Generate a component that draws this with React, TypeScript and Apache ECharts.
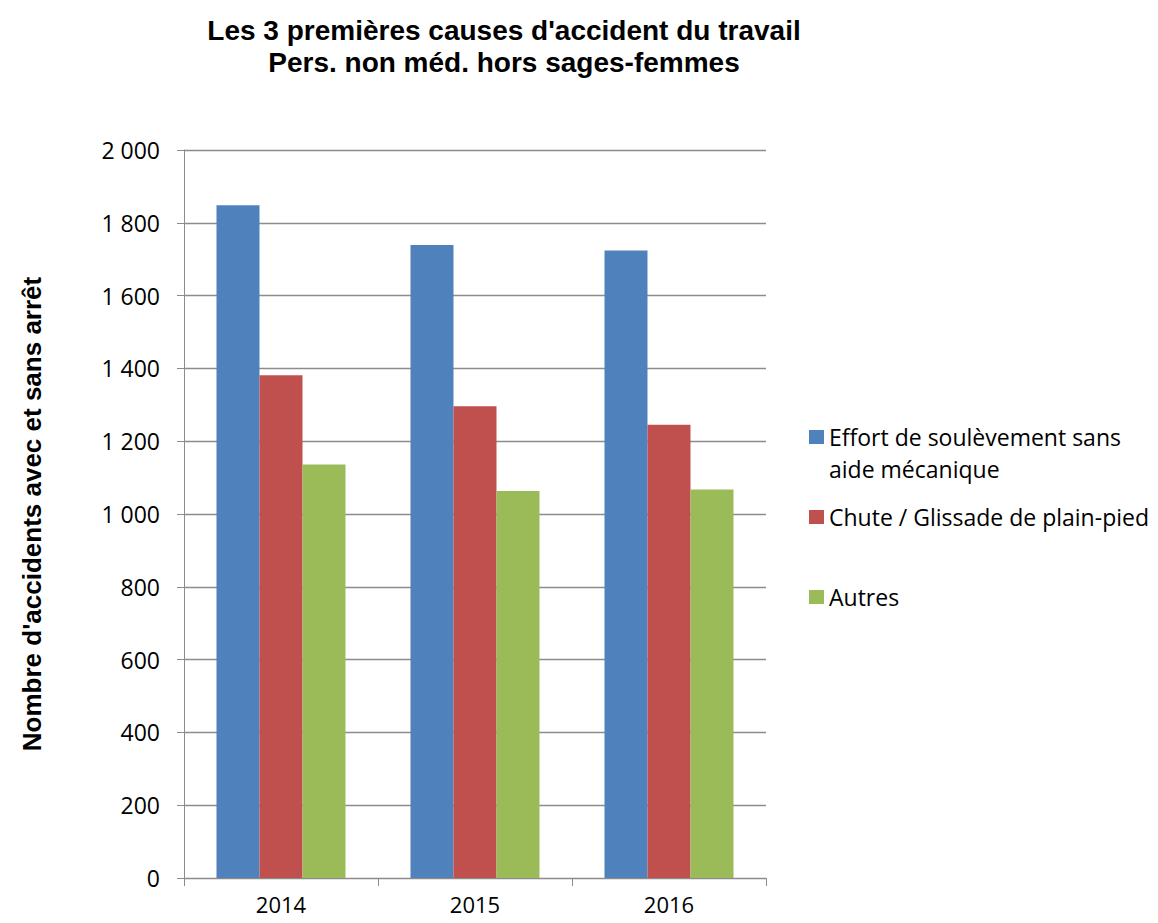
import React, { useEffect, useRef } from "react";
import * as echarts from "echarts";

const years = ["2014", "2015", "2016"];
const seriesNames = [
  "Effort de soulèvement sans aide mécanique",
  "Chute / Glissade de plain-pied",
  "Autres",
];
const effort = [1848, 1739, 1724];
const chute = [1381, 1296, 1245];
const autres = [1136, 1063, 1067];
const colors = ["#4F81BD", "#C0504D", "#9BBB59"];
const titleText = "Les 3 premières causes d'accident du travail\nPers. non méd. hors sages-femmes";
const yAxisName = "Nombre d'accidents avec et sans arrêt";

const fmt = (v: number) => {
  const s = String(v);
  return s.length > 3 ? s.slice(0, s.length - 3) + " " + s.slice(-3) : s;
};

export default function App() {
  const ref = useRef<HTMLDivElement>(null);
  useEffect(() => {
    document.body.style.margin = "0";
    const chart = echarts.init(ref.current!, null, { renderer: "svg" });
    const legendFont = { fontFamily: "Open Sans", fontSize: 23, color: "#000", lineHeight: 32 };
    chart.setOption({
      animation: false,
      backgroundColor: "#fff",
      title: {
        text: titleText,
        left: 499,
        top: 9,
        textAlign: "center",
        textStyle: {
          fontFamily: "Liberation Sans",
          fontWeight: "bold",
          fontSize: 28,
          lineHeight: 32,
          color: "#000",
        },
      },
      grid: { left: 184, right: 392, top: 150, bottom: 45 },
      legend: [
        {
          data: [seriesNames[0]],
          left: 809,
          top: 389,
          padding: 0,
          itemWidth: 15,
          itemHeight: 14,
          icon: "rect",
          formatter: () => "\nEffort de soulèvement sans\naide mécanique",
          textStyle: legendFont,
        },
        {
          data: [seriesNames[1]],
          left: 809,
          top: 501,
          padding: 0,
          itemWidth: 15,
          itemHeight: 14,
          icon: "rect",
          textStyle: legendFont,
        },
        {
          data: [seriesNames[2]],
          left: 809,
          top: 581,
          padding: 0,
          itemWidth: 15,
          itemHeight: 14,
          icon: "rect",
          textStyle: legendFont,
        },
      ],
      xAxis: {
        type: "category",
        data: years,
        axisLine: { lineStyle: { color: "#8c8c8c", width: 1 } },
        axisTick: { show: true, length: 8, lineStyle: { color: "#8c8c8c" } },
        axisLabel: {
          fontFamily: "Open Sans",
          fontSize: 22,
          lineHeight: 22,
          color: "#000",
          margin: 15,
        },
      },
      yAxis: {
        type: "value",
        min: 0,
        max: 2000,
        interval: 200,
        name: yAxisName,
        nameLocation: "middle",
        nameGap: 139,
        nameRotate: 90,
        nameTextStyle: {
          fontFamily: "Liberation Sans",
          fontWeight: "bold",
          fontSize: 26,
          color: "#000",
        },
        axisLine: { show: true, lineStyle: { color: "#8c8c8c", width: 1 } },
        axisTick: { show: true, length: 7, lineStyle: { color: "#8c8c8c" } },
        splitLine: { lineStyle: { color: "#8c8c8c", width: 1.3 } },
        axisLabel: {
          fontFamily: "Open Sans",
          fontSize: 23,
          color: "#000",
          margin: 24,
          formatter: (v: number) => fmt(v),
        },
      },
      series: [
        { name: seriesNames[0], type: "bar", data: effort, itemStyle: { color: colors[0] }, barGap: "0%", barCategoryGap: "33.5%" },
        { name: seriesNames[1], type: "bar", data: chute, itemStyle: { color: colors[1] }, barGap: "0%", barCategoryGap: "33.5%" },
        { name: seriesNames[2], type: "bar", data: autres, itemStyle: { color: colors[2] }, barGap: "0%", barCategoryGap: "33.5%" },
      ],
    });
    return () => chart.dispose();
  }, []);
  return <div ref={ref} style={{ width: 1158, height: 923 }} />;
}
